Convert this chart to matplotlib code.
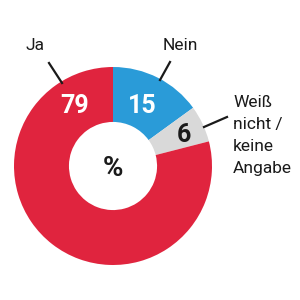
import matplotlib
matplotlib.use("Agg")
import matplotlib.pyplot as plt

labels = ["Nein", "Weiß\nnicht /\nkeine\nAngabe", "Ja"]
values = [15, 6, 79]
colors = ["#2A9BD8", "#D9D9D9", "#E0243E"]
value_colors = ["white", "#1a1a1a", "white"]

FONT = ["Roboto", "DejaVu Sans"]

fig = plt.figure(figsize=(3, 3), dpi=100)
ax = fig.add_axes([0, 0, 1, 1])
ax.set_xlim(0, 300)
ax.set_ylim(0, 300)
ax.set_aspect("equal")
ax.axis("off")

cx, cy, R = 113, 300 - 166, 99
wedges, _ = ax.pie(values, colors=colors, startangle=90, counterclock=False,
                   center=(cx, cy), radius=R,
                   wedgeprops=dict(width=R * 0.555, linewidth=0))
ax.set_xlim(0, 300)
ax.set_ylim(0, 300)

# value labels inside ring
val_pos = [(142, 300 - 106), (184, 300 - 135), (75, 300 - 106)]
for v, (x, y), c in zip(values, val_pos, value_colors):
    ax.text(x, y, str(v), ha="center", va="center", color=c,
            fontsize=18, fontweight="bold", family=FONT)

ax.text(cx, 300 - 169, "%", ha="center", va="center", color="#1a1a1a",
        fontsize=20, fontweight="bold", family=FONT)

# category labels with leader lines
ax.plot([170, 160], [300 - 62, 300 - 80], color="#1a1a1a", lw=1.6)
ax.text(180, 300 - 45, labels[0], ha="center", va="center", color="#1a1a1a",
        fontsize=12.5, family=FONT)

ax.plot([227, 204], [300 - 117, 300 - 127], color="#1a1a1a", lw=1.6)
ax.text(233, 300 - 95, labels[1], ha="left", va="top", color="#1a1a1a",
        fontsize=12.5, family=FONT, linespacing=1.58)

ax.plot([49, 62], [300 - 63, 300 - 83], color="#1a1a1a", lw=1.6)
ax.text(35, 300 - 46, labels[2], ha="center", va="center", color="#1a1a1a",
        fontsize=12.5, family=FONT)

fig.savefig("out.png", dpi=100)
